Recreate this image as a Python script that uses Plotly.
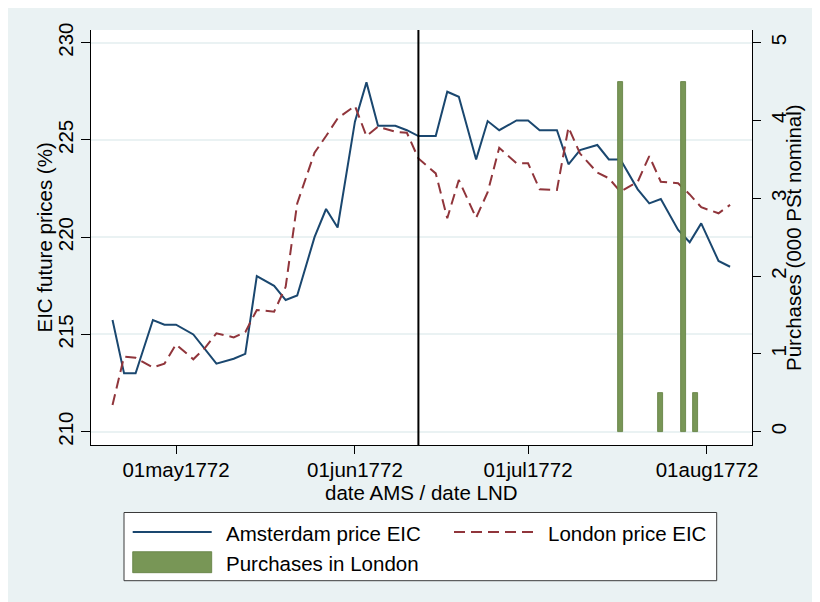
import plotly.graph_objects as go

# ---------------- data ----------------
dates = [
    "1772-04-20", "1772-04-22", "1772-04-24", "1772-04-27", "1772-04-29",
    "1772-05-01", "1772-05-04", "1772-05-06", "1772-05-08", "1772-05-11", "1772-05-13",
    "1772-05-15", "1772-05-18", "1772-05-20", "1772-05-22", "1772-05-25", "1772-05-27", "1772-05-29",
    "1772-06-01", "1772-06-03", "1772-06-05", "1772-06-08", "1772-06-10", "1772-06-12",
    "1772-06-15", "1772-06-17", "1772-06-19", "1772-06-22", "1772-06-24", "1772-06-26", "1772-06-29",
    "1772-07-01", "1772-07-03", "1772-07-06", "1772-07-08", "1772-07-10", "1772-07-13",
    "1772-07-15", "1772-07-17", "1772-07-20", "1772-07-22", "1772-07-24", "1772-07-27",
    "1772-07-29", "1772-07-31", "1772-08-03", "1772-08-05",
]
amsterdam_price = [
    215.74, 213.0, 213.0, 215.74, 215.5,
    215.5, 215.0, 214.25, 213.5, 213.75, 214.0,
    218.0, 217.5, 216.77, 217.0, 220.0, 221.45, 220.5,
    225.94, 227.96, 225.73, 225.73, 225.5, 225.2,
    225.2, 227.48, 227.22, 224.0, 225.97, 225.5, 226.0,
    226.0, 225.5, 225.5, 223.75, 224.48, 224.74,
    224.0, 224.0, 222.46, 221.74, 221.96, 220.37,
    219.74, 220.71, 218.78, 218.48,
]
london_price = [
    211.37, 213.86, 213.8, 213.3, 213.5,
    214.49, 213.72, 214.3, 215.06, 214.85, 215.12,
    216.26, 216.17, 217.45, 221.74, 224.34, 225.2, 226.11,
    226.75, 225.2, 225.68, 225.42, 225.37, 224.05,
    223.28, 220.97, 222.94, 221.0, 222.31, 224.6, 223.8,
    223.8, 222.46, 222.43, 225.65, 224.3, 223.32,
    223.03, 222.34, 222.85, 224.17, 222.85, 222.77,
    222.2, 221.54, 221.23, 221.66,
]
purchase_dates = ["1772-07-17", "1772-07-24", "1772-07-28", "1772-07-30"]
purchase_values = [4.5, 0.5, 4.5, 0.5]

event_date = "1772-06-12"

x_tick_vals = ["1772-05-01", "1772-06-01", "1772-07-01", "1772-08-01"]
x_tick_text = ["01may1772", "01jun1772", "01jul1772", "01aug1772"]
y_tick_vals = [210, 215, 220, 225, 230]
y2_tick_vals = [0, 1, 2, 3, 4, 5]

x_range = ["1772-04-16 06:30", "1772-08-08 19:10"]
y_range = [209.316, 230.653]
y2_range = [-0.171, 5.163]

# ---------------- style ----------------
FONT = "Liberation Sans, Arial, sans-serif"
FS = 20.5
NAVY = "#1a476f"
MAROON = "#90353b"
GREEN_FILL = "#789656"
GREEN_LINE = "#5e7c3c"
BG = "#eaf2f3"

OFF = 8  # page body margin: screen position = figure position + OFF
W, H = 820, 602
ML, MT = 91 - OFF, 30 - OFF
PW, PH = 661, 415
MR, MB = W - ML - PW, H - MT - PH


def px(xs):
    """screen x pixel -> paper fraction"""
    return (xs - OFF - ML) / PW


def py(ys):
    """screen y pixel -> paper fraction"""
    return (MT + PH - (ys - OFF)) / PH


fig = go.Figure()

fig.add_trace(go.Bar(
    x=purchase_dates, y=purchase_values, yaxis="y2",
    width=0.88 * 86400000,
    marker=dict(color=GREEN_FILL, line=dict(color=GREEN_LINE, width=0.8)),
    name="Purchases in London", showlegend=False,
))
fig.add_trace(go.Scatter(
    x=dates, y=amsterdam_price, mode="lines",
    line=dict(color=NAVY, width=2),
    name="Amsterdam price EIC", showlegend=False,
))
fig.add_trace(go.Scatter(
    x=dates, y=london_price, mode="lines",
    line=dict(color=MAROON, width=2, dash="11px,6px"),
    name="London price EIC", showlegend=False,
))

shapes = []
# vertical event line
shapes.append(dict(type="line", xref="x", yref="paper",
                   x0=event_date, x1=event_date, y0=0, y1=1,
                   line=dict(color="black", width=2)))
# legend box
shapes.append(dict(type="rect", xref="paper", yref="paper",
                   x0=px(124), x1=px(716.7), y0=py(580.7), y1=py(512.5),
                   fillcolor="white", line=dict(color="#3a3a3a", width=1)))
shapes.append(dict(type="line", xref="paper", yref="paper",
                   x0=px(132.7), x1=px(211.7), y0=py(532), y1=py(532),
                   line=dict(color=NAVY, width=2)))
shapes.append(dict(type="line", xref="paper", yref="paper",
                   x0=px(454), x1=px(533.3), y0=py(532), y1=py(532),
                   line=dict(color=MAROON, width=2, dash="11px,6px")))
shapes.append(dict(type="rect", xref="paper", yref="paper",
                   x0=px(132.7), x1=px(211.7), y0=py(572.7), y1=py(551.7),
                   fillcolor=GREEN_FILL, line=dict(color=GREEN_LINE, width=0.8)))

annotations = []
for txt, xx, yy in [("Amsterdam price EIC", 224.3, 533.5),
                    ("London price EIC", 546, 533.5),
                    ("Purchases in London", 224.3, 563.5)]:
    annotations.append(dict(text=txt, xref="paper", yref="paper",
                            x=px(xx), y=py(yy), xanchor="left", yanchor="middle",
                            showarrow=False, font=dict(family=FONT, size=FS, color="black")))
# axis titles
annotations.append(dict(text="date AMS / date LND", xref="paper", yref="paper",
                        x=px(421.2), y=py(492), xanchor="center", yanchor="middle",
                        borderpad=0,
                        showarrow=False, font=dict(family=FONT, size=FS, color="black")))
annotations.append(dict(text="EIC future prices (%)", xref="paper", yref="paper",
                        x=px(44), y=py(237.5), xanchor="center", yanchor="middle",
                        textangle=-90,
                        showarrow=False, font=dict(family=FONT, size=FS, color="black")))
annotations.append(dict(text="Purchases (000 PSt nominal)", xref="paper", yref="paper",
                        x=px(793.5), y=py(237.5), xanchor="center", yanchor="middle",
                        textangle=-90,
                        showarrow=False, font=dict(family=FONT, size=FS, color="black")))

fig.update_layout(
    width=W, height=H,
    margin=dict(l=ML, r=MR, t=MT, b=MB, autoexpand=False),
    paper_bgcolor=BG, plot_bgcolor="white",
    font=dict(family=FONT, size=FS, color="black"),
    showlegend=False,
    bargap=0,
    shapes=shapes,
    annotations=annotations,
    xaxis=dict(
        type="date", range=x_range,
        tickmode="array", tickvals=x_tick_vals, ticktext=x_tick_text,
        ticks="outside", ticklen=8, tickcolor="black", tickwidth=1,
        ticklabelstandoff=-2,
        showline=True, linecolor="black", linewidth=1,
        showgrid=False, zeroline=False,
        tickfont=dict(family=FONT, size=FS),
        automargin=False,
    ),
    yaxis=dict(
        range=y_range, tickmode="array", tickvals=y_tick_vals,
        tickangle=-90,
        ticks="outside", ticklen=9, tickcolor="black", tickwidth=1,
        showline=True, linecolor="black", linewidth=1,
        showgrid=True, gridcolor=BG, gridwidth=1.5,
        zeroline=False,
        tickfont=dict(family=FONT, size=FS),
        automargin=False,
    ),
    yaxis2=dict(
        overlaying="y", side="right",
        range=y2_range, tickmode="array", tickvals=y2_tick_vals,
        tickangle=-90,
        ticks="outside", ticklen=8, tickcolor="black", tickwidth=1,
        showline=True, linecolor="black", linewidth=1,
        showgrid=False, zeroline=False,
        tickfont=dict(family=FONT, size=FS),
        automargin=False,
    ),
)

fig.write_html("out.html")
